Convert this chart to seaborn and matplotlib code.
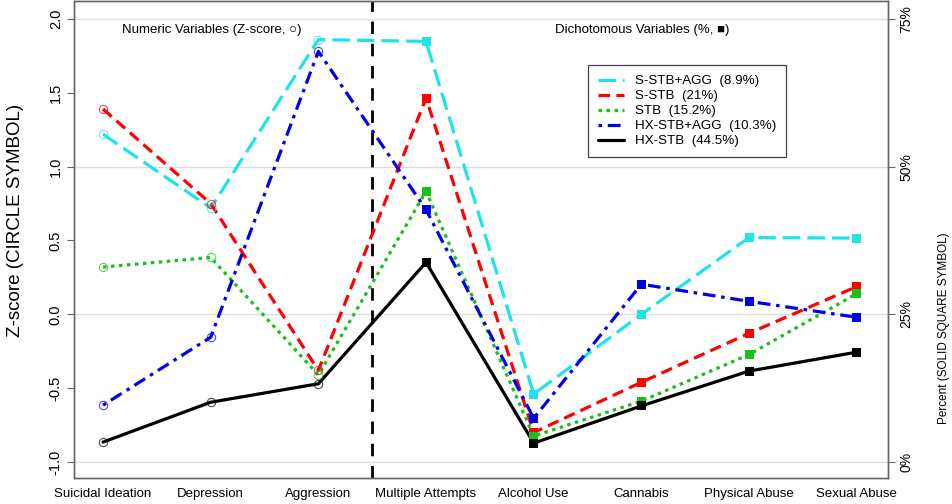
import matplotlib
matplotlib.use("Agg")
import matplotlib.pyplot as plt
import seaborn as sns
import pandas as pd

# categories: first three are numeric (z-score), last five dichotomous (%)
categories = ["Suicidal Ideation", "Depression", "Aggression", "Multiple Attempts",
              "Alcohol Use", "Cannabis", "Physical Abuse", "Sexual Abuse"]
groups = ["S-STB+AGG  (8.9%)", "S-STB  (21%)", "STB  (15.2%)",
          "HX-STB+AGG  (10.3%)", "HX-STB  (44.5%)"]

s_stb_agg_z = [1.22, 0.72, 1.86]
s_stb_agg_pct = [71.2, 11.5, 25.0, 38.0, 37.9]
s_stb_z = [1.39, 0.75, -0.38]
s_stb_pct = [61.6, 5.0, 13.5, 21.8, 29.7]
stb_z = [0.32, 0.385, -0.41]
stb_pct = [45.8, 4.4, 10.3, 18.2, 28.5]
hx_stb_agg_z = [-0.615, -0.155, 1.78]
hx_stb_agg_pct = [42.7, 7.4, 30.1, 27.2, 24.5]
hx_stb_z = [-0.865, -0.595, -0.47]
hx_stb_pct = [33.8, 3.2, 9.5, 15.4, 18.6]

z_ticks = [-1.0, -0.5, 0.0, 0.5, 1.0, 1.5, 2.0]
pct_ticks = [0, 25, 50, 75]

colors = ["#1ee4ea", "#ff0000", "#19c019", "#0000e6", "#000000"]
dashes = [(5.5, 2.2), (3.6, 2.0), (1.1, 1.4), (1.1, 1.8, 4.0, 1.8), ""]

z_lists = [s_stb_agg_z, s_stb_z, stb_z, hx_stb_agg_z, hx_stb_z]
pct_lists = [s_stb_agg_pct, s_stb_pct, stb_pct, hx_stb_agg_pct, hx_stb_pct]

# right axis: 0% sits at z=-1, 75% at z=2 -> z = pct/25 - 1
rows = []
for g, zs, ps in zip(groups, z_lists, pct_lists):
    vals = list(zs) + [p / 25.0 - 1.0 for p in ps]
    for i, v in enumerate(vals):
        rows.append({"group": g, "pos": i, "val": v, "kind": "z" if i < 3 else "pct"})
df = pd.DataFrame(rows)

sns.set_style("white")
plt.rcParams["font.family"] = ["Liberation Sans", "DejaVu Sans"]
plt.rcParams["text.color"] = "black"
plt.rcParams["axes.labelcolor"] = "black"
plt.rcParams["xtick.color"] = "black"
plt.rcParams["ytick.color"] = "black"

fig = plt.figure(figsize=(9.52, 5.04), dpi=100)
ax = fig.add_axes([0.0777, 0.0516, 0.855, 0.946])

ylo, yhi = -1.108, 2.12
for t in [-1, 0, 1, 2]:
    ax.axhline(t, color="#dddddd", lw=1, zorder=0)

pal = dict(zip(groups, colors))
sns.lineplot(data=df, x="pos", y="val", hue="group", style="group",
             palette=pal, dashes=dict(zip(groups, dashes)), linewidth=2.3,
             estimator=None, sort=False, ax=ax, zorder=3)

# open circles for z-scores
for g, c in zip(groups, colors):
    sub = df[(df.group == g) & (df.kind == "z")]
    ax.plot(sub.pos, sub.val, linestyle="none", marker="o", markersize=6,
            markerfacecolor="none", markeredgecolor=c, markeredgewidth=0.8,
            alpha=0.7, zorder=4, label="_nolegend_")
# solid squares for percents
sns.scatterplot(data=df[df.kind == "pct"], x="pos", y="val", hue="group",
                palette=pal, marker="s", s=42, linewidth=0, legend=False,
                ax=ax, zorder=5)

ax.axvline(2.5, color="black", lw=2, dashes=(4.5, 3.5), zorder=2)

ax.text(0.18, 1.926, "Numeric Variables (Z-score, \u25cb)", fontsize=9.5, va="center")
ax.text(4.2, 1.926, "Dichotomous Variables (%, \u25a0)", fontsize=9.5, va="center")

ax.set_xlim(-0.27, 7.29)
ax.set_ylim(ylo, yhi)
ax.set_xticks(range(len(categories)))
ax.set_xticklabels(categories, fontsize=9.5)
ax.tick_params(axis="x", length=0, pad=7)
ax.set_yticks(z_ticks)
ax.set_yticklabels([f"{t:.1f}" for t in z_ticks], fontsize=10.5, rotation=90, va="center")
ax.tick_params(axis="y", left=True, length=5, color="#666666", labelcolor="black", pad=3)
ax.set_xlabel("")
ax.set_ylabel("Z-score (CIRCLE SYMBOL)", fontsize=13.5)
ax.yaxis.set_label_coords(-0.061, 0.54)

for sp in ax.spines.values():
    sp.set_color("#666666")
    sp.set_linewidth(1)

ax2 = ax.twinx()
ax2.set_ylim((ylo + 1) * 25, (yhi + 1) * 25)
ax2.set_yticks(pct_ticks)
ax2.set_yticklabels([f"{p}%" for p in pct_ticks], fontsize=10, rotation=90, va="center")
ax2.tick_params(axis="y", right=True, length=5, color="#666666", labelcolor="black", pad=3)
ax2.set_ylabel("Percent (SOLID SQUARE SYMBOL)", fontsize=8.5)
ax2.yaxis.set_label_coords(1.062, 0.314)
for sp in ax2.spines.values():
    sp.set_color("#666666")
    sp.set_linewidth(1)

sns.move_legend(ax, "upper left", bbox_to_anchor=(0.631, 0.866), title=None,
                fontsize=9.6, frameon=True, fancybox=False, framealpha=1,
                edgecolor="#444444", handlelength=2.0, labelspacing=0.2,
                borderpad=0.75, handletextpad=0.8, borderaxespad=0)
ax.get_legend().get_frame().set_linewidth(0.9)

fig.savefig("out.png", dpi=100)
